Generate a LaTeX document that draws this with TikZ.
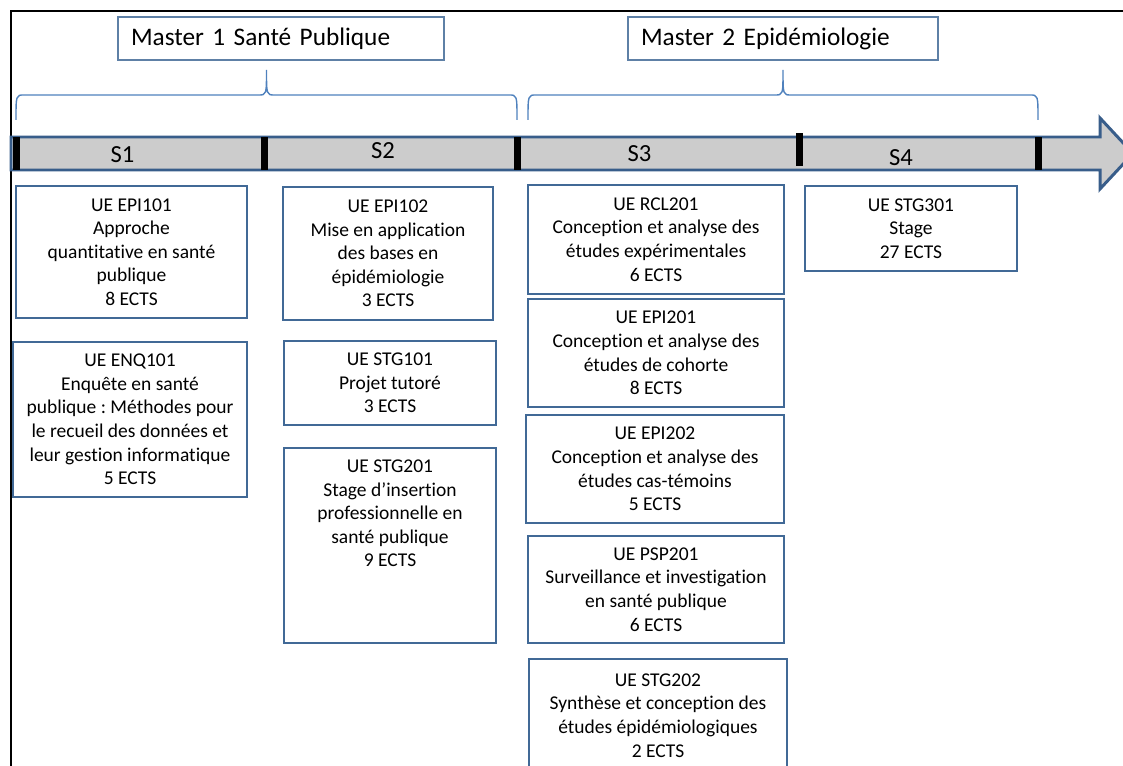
\documentclass[tikz,border=0pt]{standalone}
\usepackage{fontspec}
\setmainfont{Carlito}[Ligatures=NoCommon]
\usetikzlibrary{decorations.pathreplacing}

\definecolor{ueframe}{RGB}{65,105,150}
\definecolor{bracecol}{RGB}{79,129,189}
\definecolor{barfill}{RGB}{204,204,204}
\definecolor{barline}{RGB}{56,93,138}

\frenchspacing

\begin{document}
\begin{tikzpicture}[
        x=0.02cm, y=-0.02cm,
        ue/.style={draw=ueframe, line width=0.9pt, fill=white, align=center, inner sep=0pt,
            font=\fontsize{11.1}{13.4}\selectfont},
        master/.style={draw=ueframe!85, line width=0.9pt, align=left, inner xsep=0.26cm, inner ysep=0pt,
            minimum height=0.86cm, font=\fontsize{14.4}{17}\selectfont},
        sem/.style={inner sep=0pt, font=\fontsize{14}{16}\selectfont},
        ruler/.style={draw=barline, line width=1.7pt, fill=barfill, line join=miter},
        accolade/.style={draw=bracecol, line width=0.8pt}
    ]
        \useasboundingbox (0,0) rectangle (1123,766);

        % outer frame
        \draw[line width=1.1pt] (11,766) -- (11,11) -- (1123,11);

        % the two years
        \node[master, text width=6cm] (m1) at (281,38.5) {Master 1 Santé Publique};
        \node[master, text width=5.68cm] (m2) at (783,38.5) {Master 2 Epidémiologie};
        \foreach \a/\b in {16/517, 528/1038} {
            \pgfmathsetmacro\m{(\a+\b)/2}
            \draw[accolade] (\a,120) .. controls (\a,95) .. (\a+8,95) -- (\m-8,95)
                .. controls (\m,95) .. (\m,70) .. controls (\m,95) .. (\m+8,95)
                -- (\b-8,95) .. controls (\b,95) .. (\b,120);
        }

        % timeline with semester marks
        \draw[ruler] (11,137) -- (1100,137) -- (1100,118) -- (1133,153.5)
            -- (1100,189) -- (1100,170) -- (11,170) -- cycle;
        \foreach \tx/\ty in {16.5/137, 264/137, 517/137, 799/133, 1038/137}
            \fill (\tx-3.5,\ty) rectangle ++(7,33);
        \foreach \s/\sx/\sy in {1/122.5/155, 2/383/151, 3/639.5/153.5, 4/901/157.5}
            \node[sem] (s\s) at (\sx,\sy) {S\s};

        % S1
        \node[ue, minimum width=4.62cm, minimum height=2.64cm] (epi101) at (131.5,252)
            {UE EPI101\\Approche\\quantitative en santé\\publique\\8 ECTS};
        \node[ue, minimum width=4.68cm, minimum height=3.1cm] (enq101) at (130,419.5)
            {UE ENQ101\\Enquête en santé\\publique : Méthodes pour\\le recueil des données et\\leur gestion informatique\\5 ECTS};

        % S2
        \node[ue, minimum width=4.2cm, minimum height=2.66cm] (epi102) at (388,253.5)
            {UE EPI102\\Mise en application\\des bases en\\épidémiologie\\3 ECTS};
        \node[ue, minimum width=4.24cm, minimum height=1.68cm] (stg101) at (390,383)
            {UE STG101\\Projet tutoré\\3 ECTS};
        \node[ue, minimum width=4.24cm, minimum height=3.9cm, text depth=1.28cm] (stg201) at (390,545.5)
            {UE STG201\\Stage d’insertion\\professionnelle en\\santé publique\\9 ECTS};

        % S3
        \node[ue, minimum width=5.12cm, minimum height=2.18cm] (rcl201) at (656,239.5)
            {UE RCL201\\Conception et analyse des\\études expérimentales\\6 ECTS};
        \node[ue, minimum width=5.12cm, minimum height=2.16cm] (epi201) at (656,353)
            {UE EPI201\\Conception et analyse des\\études de cohorte\\8 ECTS};
        \node[ue, minimum width=5.16cm, minimum height=2.16cm] (epi202) at (655,469)
            {UE EPI202\\Conception et analyse des\\études cas-témoins\\5 ECTS};
        \node[ue, minimum width=5.12cm, minimum height=2.14cm] (psp201) at (656,589.5)
            {UE PSP201\\Surveillance et investigation\\en santé publique\\6 ECTS};
        \node[ue, minimum width=5.16cm, minimum height=2.26cm] (stg202) at (658,715.5)
            {UE STG202\\Synthèse et conception des\\études épidémiologiques\\2 ECTS};

        % S4
        \node[ue, minimum width=4.24cm, minimum height=1.7cm] (stg301) at (911,228.5)
            {UE STG301\\Stage\\27 ECTS};
    \end{tikzpicture}
\end{document}
